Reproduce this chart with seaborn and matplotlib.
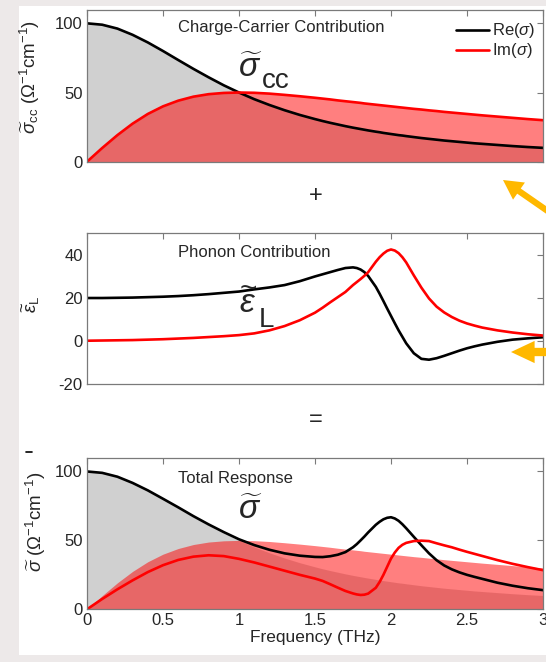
import matplotlib
matplotlib.use("Agg")
import matplotlib.pyplot as plt
import seaborn as sns
from matplotlib.patches import Rectangle, FancyArrowPatch
from matplotlib.lines import Line2D

# ---------------- data ----------------
freq = [0.0, 0.1, 0.2, 0.3, 0.4, 0.5, 0.6, 0.7, 0.8, 0.9, 1.0, 1.1, 1.2, 1.3, 1.4, 1.5,
        1.55, 1.6, 1.65, 1.7, 1.75, 1.775, 1.8, 1.825, 1.85, 1.9, 1.925, 1.95, 1.975, 2.0,
        2.025, 2.05, 2.075, 2.1,
        2.15, 2.2, 2.25, 2.3, 2.35, 2.4, 2.45, 2.5, 2.55, 2.6, 2.7, 2.8, 2.9, 3.0]

# charge-carrier contribution
cc_re = [100, 99.0, 96.2, 91.7, 86.2, 80.0, 73.5, 67.1, 61.0, 55.2, 50.0, 45.2, 41.0, 37.2, 33.8, 30.8,
         29.4, 28.1, 26.9, 25.7, 24.6, 24.1, 23.6, 23.1, 22.6, 21.7, 21.3, 20.8, 20.4, 20.0,
         19.6, 19.2, 18.9, 18.5,
         17.8, 17.1, 16.5, 15.9, 15.3, 14.8, 14.3, 13.8, 13.3, 12.9, 12.1, 11.3, 10.6, 10.0]
cc_im = [0, 9.9, 19.2, 27.5, 34.5, 40.0, 44.1, 47.0, 48.8, 49.7, 50.0, 49.8, 49.2, 48.3, 47.3, 46.2,
         45.6, 45.0, 44.3, 43.7, 43.1, 42.8, 42.5, 42.1, 41.8, 41.2, 40.9, 40.6, 40.3, 40.0,
         39.7, 39.4, 39.1, 38.8,
         38.2, 37.7, 37.1, 36.6, 36.0, 35.5, 35.0, 34.5, 34.0, 33.5, 32.6, 31.7, 30.8, 30.0]

# phonon contribution
ph_re = [20.0, 20.0, 20.1, 20.2, 20.4, 20.6, 20.9, 21.3, 21.8, 22.4, 23.0, 24.0, 24.9, 26.0, 27.8, 30.0,
         31.0, 32.0, 33.0, 33.9, 34.2, 33.9, 33.2, 32.0, 30.2, 25.2, 22.0, 18.6, 15.1, 11.7,
         8.3, 5.0, 2.0, -1.0,
         -5.6, -8.2, -8.6, -7.9, -6.8, -5.6, -4.4, -3.3, -2.4, -1.6, -0.3, 0.7, 1.3, 1.8]
ph_im = [0.2, 0.3, 0.4, 0.5, 0.7, 0.9, 1.2, 1.5, 1.9, 2.3, 2.8, 3.6, 5.0, 7.0, 9.7, 13.2,
         15.5, 18.0, 20.4, 22.8, 26.0, 27.4, 28.8, 30.3, 32.0, 36.8, 38.9, 40.6, 41.9, 42.5,
         42.0, 40.8, 38.9, 36.5,
         30.5, 24.8, 19.8, 16.0, 13.3, 11.2, 9.5, 8.2, 7.2, 6.3, 5.0, 4.0, 3.2, 2.6]

# total response
tot_re = [100, 99.0, 96.2, 91.7, 86.3, 80.2, 74.0, 67.6, 61.6, 56.0, 50.8, 46.6, 43.2, 40.6, 38.9, 38.0,
          37.9, 38.5, 39.6, 41.5, 45.0, 47.3, 50.0, 52.8, 55.8, 61.3, 63.5, 65.3, 66.4, 66.8,
          65.9, 64.2, 61.7, 58.8,
          52.6, 46.5, 40.6, 35.6, 31.8, 29.0, 26.8, 25.0, 23.5, 22.1, 19.3, 17.1, 15.3, 13.9]
tot_im = [0, 7.5, 14.5, 21.0, 27.0, 32.0, 35.8, 38.2, 39.2, 38.6, 36.6, 34.0, 31.0, 28.0, 25.0, 22.3,
          20.6, 18.2, 15.7, 13.3, 11.5, 10.8, 10.4, 10.6, 11.4, 15.6, 19.8, 25.0, 30.9, 36.8,
          41.2, 44.6, 46.8, 48.2,
          49.5, 49.8, 49.5, 47.9, 46.4, 45.0, 43.3, 41.7, 40.2, 38.7, 35.7, 33.0, 30.6, 28.4]

xticks = [0, 0.5, 1, 1.5, 2, 2.5, 3]
xticklabels = ["0", "0.5", "1", "1.5", "2", "2.5", "3"]
legend_labels = [r"Re($\sigma$)", r"Im($\sigma$)"]

# ---------------- style ----------------
sns.set_style("white")
plt.rcParams["font.family"] = ["Liberation Sans", "DejaVu Sans"]
plt.rcParams["mathtext.fontset"] = "custom"
plt.rcParams["mathtext.rm"] = "Liberation Sans"
plt.rcParams["mathtext.it"] = "Liberation Sans:italic"
plt.rcParams["mathtext.bf"] = "Liberation Sans:bold"
plt.rcParams["axes.unicode_minus"] = False

W, H = 546, 662
fig = plt.figure(figsize=(W / 100, H / 100), dpi=100)
fig.patch.set_facecolor("#EDE9E9")
fig.add_artist(Rectangle((19 / W, 1 - 655 / H), (W - 19) / W, (655 - 6) / H,
                         transform=fig.transFigure, facecolor="white", edgecolor="none", zorder=-10))

L, R = 87, 543


def make_ax(top, bottom):
    return fig.add_axes([L / W, 1 - bottom / H, (R - L) / W, (bottom - top) / H])


ax1 = make_ax(9.5, 161.7)
ax2 = make_ax(233.3, 384.3)
ax3 = make_ax(457.7, 609.3)

GRAY_FILL = "#D0D0D0"
RED_FILL = (1.0, 0.0, 0.0, 0.5)
LW = 1.9
SPINE = "#7A7A7A"

for ax in (ax1, ax2, ax3):
    ax.set_xlim(0, 3)
    ax.set_xticks(xticks)
    ax.tick_params(direction="in", top=True, right=True, length=4, width=0.8,
                   color=SPINE, labelsize=12, pad=3)
    for s in ax.spines.values():
        s.set_color(SPINE)
        s.set_linewidth(0.9)
    ax.set_facecolor("white")

# ---- top panel
ax1.fill_between(freq, 0, cc_re, color=GRAY_FILL, lw=0)
ax1.fill_between(freq, 0, cc_im, color=RED_FILL, lw=0)
sns.lineplot(x=freq, y=cc_re, ax=ax1, color="black", lw=LW, label=legend_labels[0])
sns.lineplot(x=freq, y=cc_im, ax=ax1, color="red", lw=LW, label=legend_labels[1])
ax1.set_ylim(0, 110)
ax1.set_yticks([0, 50, 100])
ax1.set_xticklabels([])
ax1.set_xlabel("")
ax1.set_ylabel(r"$\widetilde{\sigma}_{\mathrm{cc}}$ ($\Omega^{-1}$cm$^{-1}$)", fontsize=13.5)
ax1.yaxis.set_label_coords(-0.098, 0.556)
leg = ax1.legend(loc="upper left", bbox_to_anchor=((456 - L) / (R - L), 1 - 12 / 152.2),
                 frameon=False, fontsize=12, handlelength=2.0, handletextpad=0.15,
                 labelspacing=0.05, borderaxespad=0, borderpad=0)
ax1.text(0.6, 97, "Charge-Carrier Contribution", fontsize=12, ha="left", va="center")
ax1.text(1.07, 67, r"$\widetilde{\sigma}$", fontsize=24, ha="center", va="center")
ax1.text(1.24, 58, "cc", fontsize=20, ha="center", va="center")

# ---- middle panel
sns.lineplot(x=freq, y=ph_re, ax=ax2, color="black", lw=LW)
sns.lineplot(x=freq, y=ph_im, ax=ax2, color="red", lw=LW)
ax2.set_ylim(-20, 50)
ax2.set_yticks([-20, 0, 20, 40])
ax2.set_xticklabels([])
ax2.set_xlabel("")
ax2.set_ylabel(r"$\widetilde{\epsilon}_{\mathrm{L}}$", fontsize=13.5)
ax2.yaxis.set_label_coords(-0.098, 0.53)
ax2.text(0.6, 41.3, "Phonon Contribution", fontsize=12, ha="left", va="center")
ax2.text(1.06, 17, r"$\widetilde{\epsilon}$", fontsize=24, ha="center", va="center")
ax2.text(1.18, 10, "L", fontsize=20, ha="center", va="center")

# ---- bottom panel
ax3.fill_between(freq, 0, cc_re, color=GRAY_FILL, lw=0)
ax3.fill_between(freq, 0, cc_im, color=RED_FILL, lw=0)
sns.lineplot(x=freq, y=tot_re, ax=ax3, color="black", lw=LW)
sns.lineplot(x=freq, y=tot_im, ax=ax3, color="red", lw=LW)
ax3.set_ylim(0, 110)
ax3.set_yticks([0, 50, 100])
ax3.set_xticklabels(xticklabels)
ax3.set_xlabel("Frequency (THz)", fontsize=12.5, labelpad=1)
ax3.set_ylabel(r"$\widetilde{\sigma}$ ($\Omega^{-1}$cm$^{-1}$)", fontsize=13.5)
ax3.yaxis.set_label_coords(-0.085, 0.576)
ax3.text(0.6, 95, "Total Response", fontsize=12, ha="left", va="center")
ax3.text(1.07, 72, r"$\widetilde{\sigma}$", fontsize=24, ha="center", va="center")

# ---- operators between panels
fig.text(316 / W, 1 - 196 / H, "+", fontsize=17, ha="center", va="center")
fig.text(316 / W, 1 - 420 / H, "=", fontsize=17, ha="center", va="center")
fig.add_artist(Line2D([26 / W, 32 / W], [1 - 452 / H, 1 - 452 / H], color="black", lw=1.2,
                      transform=fig.transFigure))

# ---- orange arrows
ORANGE = "#FFB800"
fig.add_artist(FancyArrowPatch((552 / W, 1 - 214 / H), (503 / W, 1 - 180 / H),
                               transform=fig.transFigure, color=ORANGE, lw=0,
                               arrowstyle="simple,head_length=14,head_width=15,tail_width=4.5",
                               mutation_scale=1, shrinkA=0, shrinkB=0))
fig.add_artist(FancyArrowPatch((552 / W, 1 - 352 / H), (511 / W, 1 - 352 / H),
                               transform=fig.transFigure, color=ORANGE, lw=0,
                               arrowstyle="simple,head_length=17,head_width=16,tail_width=6",
                               mutation_scale=1, shrinkA=0, shrinkB=0))

fig.savefig("out.png", dpi=100, facecolor=fig.get_facecolor())
